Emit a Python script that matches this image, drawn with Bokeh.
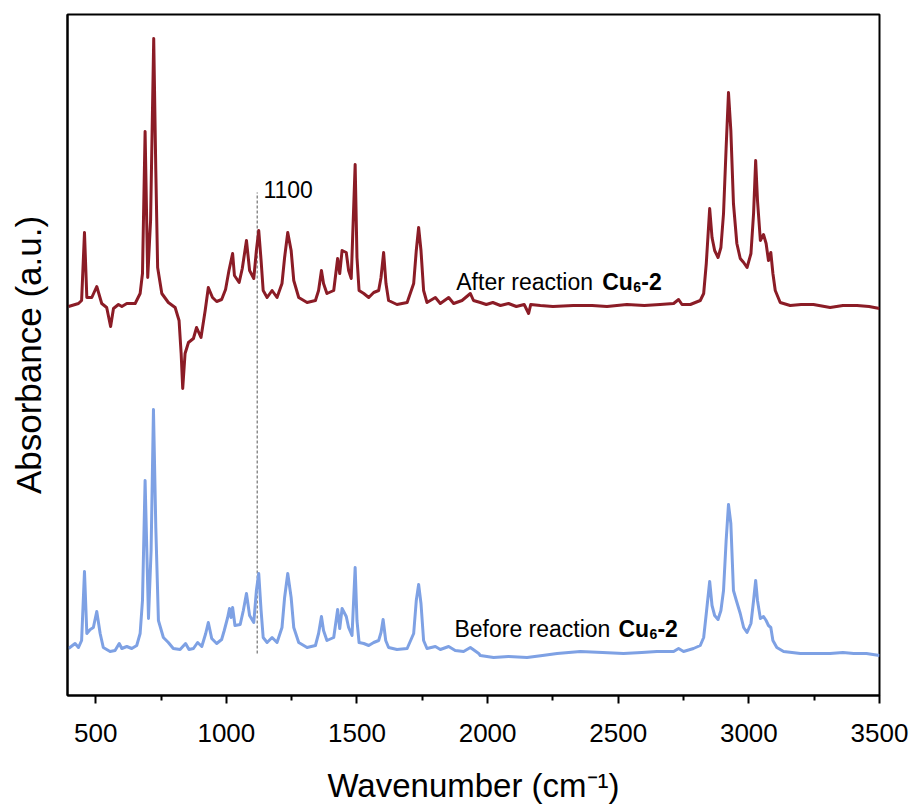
from bokeh.plotting import figure
from bokeh.models import Range1d, FixedTicker
from bokeh.core.properties import value
from bokeh.embed import file_html
from bokeh.resources import INLINE

# ---------------- data ----------------
after_wn = [396, 434, 446, 457, 466, 485, 504, 523, 542, 557, 568, 587, 600, 619, 651, 670, 679, 689, 699, 710,
            722, 730, 737, 753, 778, 804, 819, 827, 833, 842, 855, 874, 886, 903, 919, 931, 947, 963, 982, 997,
            1010, 1024, 1031, 1049, 1061, 1077, 1089, 1105, 1115, 1124, 1133, 1141, 1156, 1175, 1194, 1213, 1223,
            1235, 1248, 1258, 1277, 1309, 1341, 1353, 1364, 1372, 1385, 1411, 1426, 1434, 1443, 1459, 1468, 1478,
            1493, 1500, 1508, 1526, 1545, 1564, 1583, 1592, 1602, 1611, 1621, 1653, 1692, 1717, 1727, 1736, 1745,
            1755, 1768, 1800, 1819, 1851, 1870, 1902, 1934, 1946, 1972, 1995, 2020, 2049, 2080, 2110, 2140, 2157,
            2165, 2202, 2250, 2328, 2400, 2457, 2533, 2600, 2660, 2712, 2731, 2744, 2776, 2814, 2827, 2837, 2850,
            2859, 2869, 2882, 2893, 2903, 2913, 2922, 2931, 2941, 2954, 2967, 2980, 2993, 3008, 3018, 3026, 3033,
            3044, 3056, 3066, 3075, 3084, 3092, 3101, 3120, 3158, 3200, 3247, 3311, 3360, 3414, 3460, 3500]
after_abs = [3.89, 3.92, 3.95, 4.63, 3.98, 3.98, 4.09, 3.92, 3.88, 3.69, 3.87, 3.91, 3.89, 3.92, 3.92, 4.02, 4.22,
             5.64, 4.18, 4.75, 6.57, 5.25, 4.28, 4.02, 3.93, 3.88, 3.75, 3.42, 3.07, 3.42, 3.53, 3.57, 3.68, 3.58,
             3.85, 4.08, 3.98, 3.94, 3.96, 4.06, 4.25, 4.42, 4.20, 4.13, 4.27, 4.55, 4.25, 4.17, 4.45, 4.65, 4.35,
             4.05, 3.98, 4.05, 3.98, 4.12, 4.38, 4.63, 4.45, 4.15, 3.98, 3.93, 3.95, 4.05, 4.25, 4.12, 4.02, 4.05,
             4.37, 4.22, 4.45, 4.43, 4.25, 4.17, 5.31, 4.38, 4.05, 4.02, 3.98, 4.03, 4.05, 4.18, 4.43, 4.12, 3.95,
             3.91, 3.93, 4.12, 4.45, 4.68, 4.45, 4.05, 3.93, 3.98, 3.92, 3.98, 3.92, 3.95, 4.02, 3.95, 3.93, 3.91,
             3.93, 3.90, 3.92, 3.89, 3.91, 3.82, 3.91, 3.90, 3.89, 3.90, 3.90, 3.89, 3.91, 3.90, 3.91, 3.92, 3.96,
             3.91, 3.91, 3.95, 4.02, 4.32, 4.87, 4.58, 4.45, 4.38, 4.48, 4.82, 5.48, 6.03, 5.65, 4.92, 4.52, 4.37,
             4.33, 4.28, 4.42, 4.82, 5.35, 4.95, 4.55, 4.61, 4.52, 4.35, 4.43, 4.22, 4.05, 3.93, 3.90, 3.91, 3.91,
             3.88, 3.90, 3.90, 3.89, 3.87]

before_wn = [396, 421, 434, 446, 457, 466, 479, 491, 504, 517, 529, 555, 574, 590, 600, 619, 638, 657, 670, 679,
             689, 702, 712, 721, 730, 740, 759, 778, 797, 823, 844, 857, 874, 890, 906, 921, 931, 944, 963, 982,
             992, 1005, 1012, 1018, 1024, 1033, 1053, 1065, 1077, 1089, 1105, 1115, 1124, 1133, 1141, 1156, 1175,
             1194, 1213, 1223, 1235, 1248, 1258, 1277, 1309, 1341, 1353, 1364, 1372, 1385, 1411, 1426, 1434, 1443,
             1459, 1468, 1481, 1493, 1500, 1508, 1526, 1545, 1564, 1583, 1592, 1600, 1610, 1621, 1653, 1692, 1717,
             1727, 1736, 1745, 1755, 1768, 1800, 1819, 1851, 1876, 1908, 1934, 1966, 1972, 2023, 2080, 2151, 2210,
             2266, 2355, 2440, 2520, 2590, 2648, 2712, 2731, 2750, 2788, 2814, 2827, 2837, 2850, 2859, 2869, 2882,
             2893, 2903, 2913, 2922, 2931, 2941, 2952, 2967, 2980, 2993, 3008, 3018, 3026, 3033, 3044, 3056, 3066,
             3075, 3084, 3092, 3107, 3133, 3197, 3260, 3311, 3360, 3401, 3450, 3500]
before_abs = [0.47, 0.52, 0.48, 0.55, 1.24, 0.62, 0.66, 0.68, 0.84, 0.62, 0.48, 0.44, 0.45, 0.52, 0.47, 0.49, 0.47,
              0.50, 0.62, 0.95, 2.15, 0.77, 1.45, 2.86, 1.68, 0.75, 0.58, 0.53, 0.47, 0.46, 0.52, 0.46, 0.47, 0.53,
              0.49, 0.62, 0.73, 0.57, 0.52, 0.56, 0.65, 0.78, 0.87, 0.78, 0.88, 0.70, 0.71, 0.85, 1.02, 0.80, 0.73,
              1.05, 1.22, 0.85, 0.58, 0.53, 0.58, 0.53, 0.68, 0.98, 1.22, 0.98, 0.68, 0.53, 0.48, 0.50, 0.62, 0.79,
              0.65, 0.55, 0.58, 0.86, 0.67, 0.87, 0.79, 0.68, 0.60, 1.28, 0.75, 0.53, 0.52, 0.50, 0.53, 0.55, 0.63,
              0.76, 0.55, 0.48, 0.46, 0.47, 0.62, 0.95, 1.11, 0.92, 0.55, 0.47, 0.49, 0.46, 0.49, 0.45, 0.44, 0.48,
              0.42, 0.40, 0.38, 0.39, 0.38, 0.40, 0.42, 0.44, 0.43, 0.42, 0.43, 0.44, 0.44, 0.47, 0.44, 0.47, 0.50,
              0.58, 0.82, 1.14, 0.90, 0.80, 0.76, 0.85, 1.05, 1.55, 1.91, 1.72, 1.05, 0.95, 0.82, 0.68, 0.63, 0.72,
              0.95, 1.15, 0.95, 0.77, 0.79, 0.75, 0.70, 0.68, 0.55, 0.48, 0.44, 0.42, 0.42, 0.42, 0.43, 0.42, 0.42,
              0.40]

x_ticks = [500, 1000, 1500, 2000, 2500, 3000, 3500]
x_minor_ticks = [750, 1250, 1750, 2250, 2750, 3250]

marker_wn = 1118          # dashed guide line
marker_span = [0.42, 5.03]
marker_text = "1100"

after_label = ["After reaction", "Cu", "6", "-2"]
before_label = ["Before reaction", "Cu", "6", "-2"]

# ---------------- figure ----------------
RED = "#8b1c26"
BLUE = "#7ea1e4"
FONT = "Liberation Sans"

p = figure(width=916, height=810, x_range=Range1d(392, 3500), y_range=Range1d(0, 6.81),
           output_backend="svg", toolbar_location=None,
           min_border_left=67, min_border_right=37, min_border_top=14, min_border_bottom=115)

p.grid.visible = False
p.outline_line_color = "black"
p.outline_line_width = 2
p.background_fill_color = "white"
p.border_fill_color = "white"

xa = p.xaxis[0]
xa.ticker = FixedTicker(ticks=x_ticks, minor_ticks=x_minor_ticks)
xa.axis_line_width = 2
xa.major_tick_line_width = 2
xa.minor_tick_line_width = 2
xa.major_tick_out = 8
xa.major_tick_in = 0
xa.minor_tick_out = 5
xa.minor_tick_in = 0
xa.major_label_text_font = FONT
xa.major_label_text_font_size = "26px"
xa.major_label_text_color = "black"
xa.major_label_standoff = 20
xa.axis_label = "Wavenumber (cm\u207b\u00b9)"
xa.axis_label_text_font = FONT
xa.axis_label_text_font_size = "33px"
xa.axis_label_text_font_style = "normal"
xa.axis_label_text_color = "black"
xa.axis_label_standoff = 22

ya = p.yaxis[0]
ya.ticker = FixedTicker(ticks=[])
ya.axis_line_width = 2
ya.major_tick_out = 0
ya.major_tick_in = 0
ya.minor_tick_out = 0
ya.minor_tick_in = 0
ya.axis_label = "Absorbance (a.u.)"
ya.axis_label_text_font = FONT
ya.axis_label_text_font_size = "35px"
ya.axis_label_text_font_style = "normal"
ya.axis_label_text_color = "black"
ya.axis_label_standoff = 20

# dashed guide line and its label
p.segment(x0=[marker_wn], y0=[marker_span[0]], x1=[marker_wn], y1=[marker_span[1]],
          line_color="#555555", line_width=1, line_dash="3 2")
p.text(x=[1142], y=[5.06], text=[marker_text], text_font=value(FONT), text_font_size="23px",
       text_color="black", text_baseline="alphabetic", text_align="left")

# spectra
p.line(before_wn, before_abs, line_color=BLUE, line_width=3, line_join="round")
p.line(after_wn, after_abs, line_color=RED, line_width=3, line_join="round")


def rich_label(x, y, parts, cu_off):
    p.text(x=[x], y=[y], text=[parts[0]], text_font=value(FONT), text_font_size="23px",
           text_color="black", text_baseline="alphabetic", text_align="left")
    p.text(x=[x], y=[y], text=[parts[1]], text_font=value(FONT), text_font_size="23px",
           text_font_style="bold", text_color="black", text_baseline="alphabetic", text_align="left",
           x_offset=cu_off)
    p.text(x=[x], y=[y], text=[parts[2]], text_font=value(FONT), text_font_size="14px",
           text_font_style="bold", text_color="black", text_baseline="alphabetic", text_align="left",
           x_offset=cu_off + 31, y_offset=5)
    p.text(x=[x], y=[y], text=[parts[3]], text_font=value(FONT), text_font_size="23px",
           text_font_style="bold", text_color="black", text_baseline="alphabetic", text_align="left",
           x_offset=cu_off + 39)


rich_label(1880, 4.14, after_label, 146)
rich_label(1873, 0.67, before_label, 164)

open("out.html", "w").write(file_html(p, INLINE))
